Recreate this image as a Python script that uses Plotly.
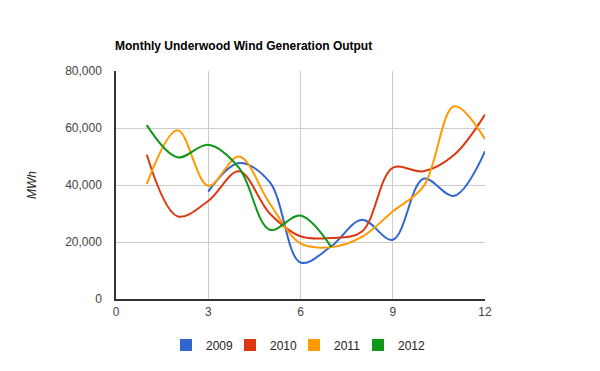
import plotly.graph_objects as go

months = [1, 2, 3, 4, 5, 6, 7, 8, 9, 10, 11, 12]
y2009 = [None, None, 37700, 47700, 41000, 12800, 18500, 27800, 20800, 42200, 36200, 51800]
y2010 = [50600, 29000, 34400, 44800, 30000, 22000, 21400, 23700, 46000, 44800, 50600, 64700]
y2011 = [40300, 59200, 39700, 50000, 33500, 19500, 18200, 21800, 30700, 39500, 67600, 56100]
y2012 = [61000, 49700, 54100, 46000, 24300, 29300, 18200, None, None, None, None, None]

series_names = ["2009", "2010", "2011", "2012"]
series_values = [y2009, y2010, y2011, y2012]
colors = ["#3366cc", "#dc3912", "#ff9900", "#109618"]

x_ticks = [0, 3, 6, 9, 12]
y_ticks = [0, 20000, 40000, 60000, 80000]

font_family = "Liberation Sans, Arial, sans-serif"
legend_ids = ["legend", "legend2", "legend3", "legend4"]

fig = go.Figure()
for name, vals, col in zip(series_names, series_values, colors):
    fig.add_trace(go.Scatter(
        x=months, y=vals, name=name, mode="lines",
        line=dict(color=col, width=2, shape="spline", smoothing=1.0),
        showlegend=False, connectgaps=False,
    ))
for name, col, lid in zip(series_names, colors, legend_ids):
    fig.add_trace(go.Scatter(
        x=[None], y=[None], name=name, mode="markers",
        marker=dict(symbol="square", size=12, color=col),
        showlegend=True, legend=lid,
    ))

# the page body adds an 8px offset, compensated in margins
layout_legends = {}
for i, lid in enumerate(legend_ids):
    layout_legends[lid] = dict(
        orientation="h", xref="container", yref="container",
        x=(158 + 64 * i) / 600, xanchor="left",
        y=1 - 337 / 371, yanchor="middle",
        font=dict(family=font_family, size=12, color="#222222"),
        itemwidth=30, bgcolor="rgba(0,0,0,0)",
    )

fig.update_layout(
    width=600, height=371,
    margin=dict(l=108, r=123, t=63, b=80, autoexpand=False),
    paper_bgcolor="white", plot_bgcolor="white",
    font=dict(family=font_family, size=12, color="#444444"),
    title=dict(
        text="<b>Monthly Underwood Wind Generation Output</b>",
        x=107 / 600, xanchor="left", xref="container",
        y=1 - 38 / 371, yanchor="middle", yref="container",
        font=dict(family=font_family, size=12, color="#000000"),
        automargin=False,
    ),
    xaxis=dict(
        range=[0, 12], tickvals=x_ticks, ticktext=[str(v) for v in x_ticks],
        showgrid=True, gridcolor="#cccccc", gridwidth=1,
        showline=True, linecolor="#333333", linewidth=1.5,
        zeroline=False, ticks="", ticklabelstandoff=1,
        tickfont=dict(size=12, color="#444444"), automargin=False,
    ),
    yaxis=dict(
        range=[0, 80000], tickvals=y_ticks, tickformat=",",
        showgrid=True, gridcolor="#cccccc", gridwidth=1,
        showline=True, linecolor="#333333", linewidth=1.5,
        zeroline=False, ticks="", ticklabelstandoff=10,
        tickfont=dict(size=12, color="#444444"), automargin=False,
        title=dict(text="<i>MWh</i>", standoff=26,
                   font=dict(size=12, color="#222222")),
    ),
    **layout_legends,
)

fig.write_html("out.html")
